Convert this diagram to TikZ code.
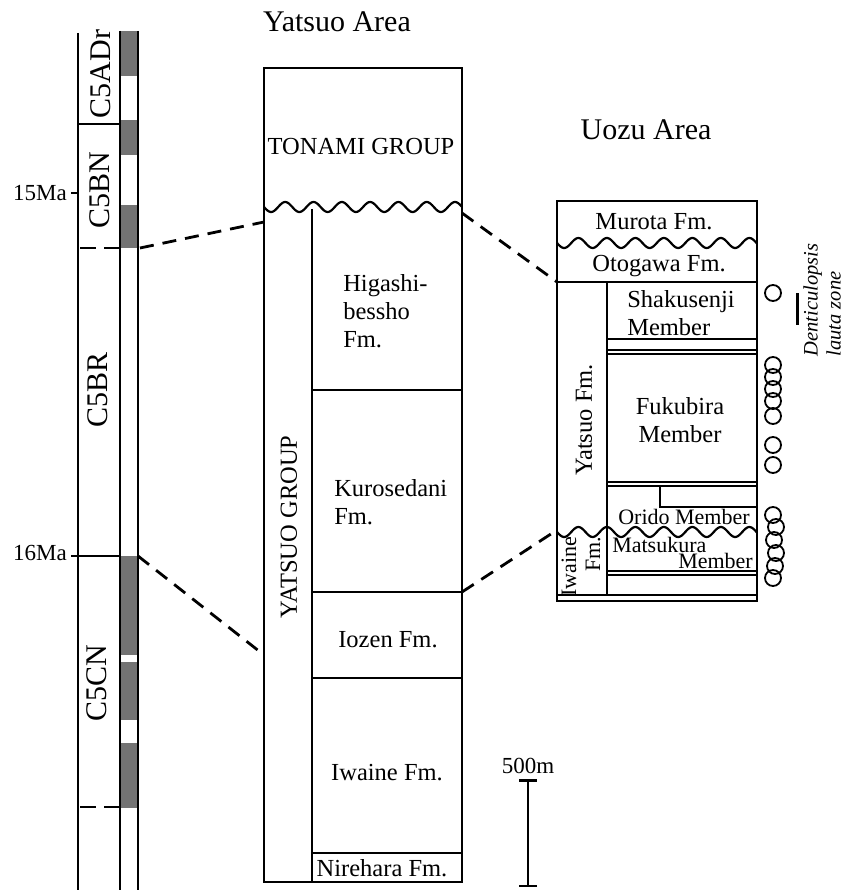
\documentclass[tikz,border=0pt]{standalone}
\usepackage{fontspec}
\setmainfont{Liberation Serif}
\usetikzlibrary{arrows.meta,positioning,calc}

\begin{document}
\begin{tikzpicture}[x=1pt,y=-1pt,line width=2.5pt,
  txt/.style={inner sep=0pt,font=\fontsize{24.5}{28}\selectfont,align=left},
  small/.style={inner sep=0pt,font=\fontsize{22}{24}\selectfont,align=left},
  area/.style={inner sep=0pt,font=\fontsize{30}{34}\selectfont},
  chron/.style={inner sep=0pt,rotate=90,font=\fontsize{30}{34}\selectfont},
  age/.style={inner sep=0pt,font=\fontsize{23}{26}\selectfont},
  pol/.style={fill=black!55,draw=none},
  corr/.style={dash pattern=on 14pt off 9pt,line width=2.8pt},
  wave/.style={line width=2.2pt},
  ring/.style={circle,draw,line width=1.8pt,minimum size=16pt,inner sep=0pt}]
\useasboundingbox (0,0) rectangle (845,890);

% polarity column
\foreach \a/\b in {31/76,120/155,205/248,556/655,662/720,743/808}
  \fill[pol] (120,\a) rectangle (138,\b);
\draw (120,31) -- (120,890) (138,31) -- (138,890);
\draw (78,33) -- (78,890);
\draw (78,124) -- (120,124);
\draw (78,556) -- (120,556);
\draw[dash pattern=on 16pt off 8pt] (80,248) -- (120,248);
\draw[dash pattern=on 16pt off 8pt] (80,807) -- (120,807);
\draw (71,193) -- (78,193) (71,556) -- (78,556);
\node[age,anchor=east] (m15) at (68,193) {15Ma};
\node[age,anchor=east] (m16) at (68,553) {16Ma};
\node[chron] (c5adr) at (101,74) {C5ADr};
\node[chron] (c5bn) at (100,190) {C5BN};
\node[chron] (c5br) at (98,390) {C5BR};
\node[chron] (c5cn) at (97,683) {C5CN};

% Yatsuo column
\node[area] (yarea) at (337,22) {Yatsuo Area};
\draw (264,68) rectangle (462,882);
\draw[wave] plot[domain=264:462,samples=160] (\x,{207+5*sin(((\x-264)/28.3)*360)});
\draw (312,209) -- (312,882);
\foreach \y in {390,592,678,853}
  \draw (312,\y) -- (462,\y);
\node[txt] (tonami) at (361,147) {TONAMI GROUP};
\node[txt,rotate=90] (ygroup) at (289,527) {YATSUO GROUP};
\node[txt,anchor=west] (higa) at (342,311) {Higashi-\\bessho\\Fm.};
\node[txt,anchor=west] (kuro) at (333,502) {Kurosedani\\Fm.};
\node[txt] (iozen) at (388,640) {Iozen Fm.};
\node[txt] (iwaine) at (387,773) {Iwaine Fm.};
\node[txt] (nire) at (382,868) {Nirehara Fm.};

% Uozu column
\node[area] (uarea) at (646,130) {Uozu Area};
\draw (557,201) rectangle (757,601);
\draw[wave] plot[domain=557:757,samples=160] (\x,{243+5*sin(((\x-557)/28.5)*360)});
\draw[wave] plot[domain=557:757,samples=160] (\x,{532+5*sin(((\x-557)/28.5)*360)});
\draw (557,282) -- (757,282);
\draw (607,282) -- (607,595);
\foreach \y in {339,350,354,482,486,571,575}
  \draw (607,\y) -- (757,\y);
\draw (660,486) -- (660,507) -- (757,507);
\draw (557,595) -- (757,595);
\node[txt] (murota) at (654,222) {Murota Fm.};
\node[txt] (otogawa) at (659,266) {Otogawa Fm.};
\node[txt,anchor=west] (shaku) at (626,313) {Shakusenji\\Member};
\node[txt,align=center] (fuku) at (680,420) {Fukubira\\Member};
\node[small] (orido) at (684,517) {Orido Member};
\node[small,anchor=west,font=\fontsize{22}{15}\selectfont] (matsu) at (611,553) {Matsukura\\\hspace*{66pt}Member};
\node[txt,rotate=90] (yfm) at (584,420) {Yatsuo Fm.};
\node[small,rotate=90,align=right] (iwfm) at (581,567) {Iwaine\\Fm.};

% diatom occurrences
\node[ring] (o1) at (773,293) {};
\foreach \y in {365,377,389,401,416,445,465}
  \node[ring] (oa\y) at (773,\y) {};
\foreach \y/\x in {515/773,527/776,540/774,553/776,566/775,578/773}
  \node[ring] (ob\y) at (\x,\y) {};
\coordinate (zt) at (797,293);
\coordinate (zb) at (797,325);
\draw[line width=3pt] (zt) -- (zb);
\node[inner sep=0pt,rotate=90,align=left,font=\itshape\fontsize{20.5}{23}\selectfont] (dlz) at (822,300) {Denticulopsis\\lauta zone};

% correlation lines
\coordinate (p1) at (140,248);
\coordinate (y1) at (264,222);
\coordinate (y2) at (462,213);
\coordinate (u1) at (557,282);
\coordinate (p2) at (138,556);
\coordinate (y3) at (264,655);
\coordinate (y4) at (462,592);
\coordinate (u2) at (557,530);
\draw[corr] (p1) -- (y1);
\draw[corr] (y2) -- (u1);
\draw[corr] (p2) -- (y3);
\draw[corr] (y4) -- (u2);

% scale bar
\coordinate (st) at (528,779);
\coordinate (sb) at (528,887);
\draw[{Bar[width=18pt]}-{Bar[width=18pt]},line width=2.5pt] (st) -- (sb);
\node[age,above=4pt of st] (scale) {500m};
\end{tikzpicture}
\end{document}
